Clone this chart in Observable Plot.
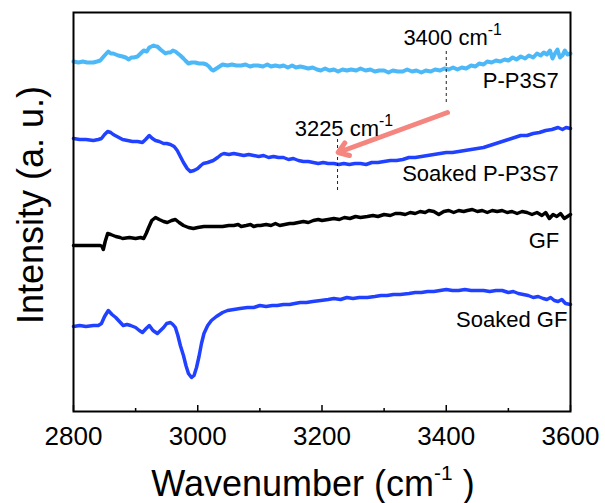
<!DOCTYPE html>
<html>
<head>
<meta charset="utf-8">
<script src="https://cdn.jsdelivr.net/npm/d3@7"></script>
<script src="https://cdn.jsdelivr.net/npm/@observablehq/plot@0.6"></script>
<style>
  html, body { margin: 0; padding: 0; background: #fff; }
  #chart svg { display: block; }
</style>
</head>
<body>
<div id="chart"></div>
<script>
// ---- data (wavenumber in cm^-1, intensity in arbitrary units, spectra offset vertically) ----
const ppWn  = [2800,2808,2815,2822,2832,2838,2843,2850,2856,2860,2864,2872,2879,2884,2889,2893,2897,2903,2908,2913,2918,2922,2929,2933,2935,2940,2944,2948,2952,2956,2960,2964,2968,2972,2977,2980,2985,2990,2996,3002,3009,3014,3018,3022,3025,3030,3035,3040,3048,3055,3062,3070,3077,3084,3090,3097,3105,3112,3118,3125,3132,3138,3145,3152,3158,3165,3172,3178,3185,3192,3198,3205,3212,3219,3226,3233,3240,3247,3255,3262,3270,3278,3285,3292,3300,3307,3314,3322,3330,3337,3345,3352,3360,3367,3375,3382,3390,3397,3404,3411,3418,3425,3432,3440,3447,3453,3460,3466,3473,3480,3487,3494,3500,3507,3513,3520,3527,3533,3540,3546,3552,3557,3562,3567,3571,3575,3579,3583,3587,3591,3595,3600];
const ppInt = [350,349,350,349,349,350,351,356,360,358,358,356,355,354,352,354,354,355,358,361,360,364,366,365,365,362,360,358,359,359,361,360,358,356,353,351,348,349,349,348,348,347,345,342,341,343,345,347,346,347,346,346,347,345,346,346,345,347,345,346,345,346,344,346,344,345,344,343,344,342,341,343,341,342,340,342,341,342,341,343,341,342,340,341,341,339,341,340,340,342,340,341,339,341,340,342,341,343,342,344,342,344,343,346,345,348,347,350,349,351,350,352,351,354,352,355,353,356,354,358,356,359,357,361,353,358,362,354,356,361,357,358];

const spWn  = [2800,2810,2820,2832,2840,2845,2850,2855,2860,2864,2870,2879,2887,2895,2903,2911,2916,2922,2927,2932,2938,2945,2950,2956,2962,2967,2972,2977,2983,2988,2994,3000,3005,3009,3016,3025,3032,3038,3042,3050,3058,3066,3074,3082,3090,3098,3106,3114,3122,3130,3138,3146,3154,3162,3170,3178,3186,3194,3202,3210,3219,3227,3235,3244,3253,3262,3271,3280,3290,3300,3310,3320,3330,3340,3350,3360,3370,3380,3390,3400,3410,3420,3430,3440,3450,3460,3470,3480,3490,3500,3510,3520,3530,3540,3550,3560,3570,3580,3587,3593,3600];
const spInt = [273,272,272,271,272,273,277,280,279,277,275,272,271,270,270,269,272,276,273,271,270,268,268,267,265,261,255,249,243,240,241,243,246,248,249,251,254,257,258,257,258,257,256,257,256,255,256,254,255,254,254,252,253,251,250,250,249,248,249,248,248,247,248,247,248,248,247,249,249,250,251,251,252,254,254,255,256,257,258,259,259,260,261,262,263,264,266,268,270,272,274,276,276,278,279,281,282,284,282,284,283];

const gfWn  = [2800,2820,2843,2846,2848,2851,2855,2860,2868,2875,2879,2890,2900,2908,2913,2917,2921,2926,2932,2938,2945,2951,2958,2964,2970,2977,2985,2993,3000,3010,3021,3030,3040,3050,3058,3065,3070,3078,3085,3090,3096,3101,3110,3118,3125,3132,3140,3148,3154,3162,3170,3178,3186,3194,3200,3210,3219,3228,3236,3245,3254,3262,3273,3282,3290,3300,3310,3318,3326,3334,3342,3350,3358,3366,3372,3380,3388,3396,3404,3412,3420,3428,3434,3442,3450,3458,3466,3474,3482,3490,3498,3506,3514,3522,3530,3538,3546,3554,3560,3566,3572,3578,3584,3590,3595,3600];
const gfInt = [166,166,166,165,162,170,178,177,175,174,173,174,173,174,173,178,184,191,194,192,190,189,191,192,189,186,184,183,184,185,185,185,185,186,186,187,185,186,187,185,186,186,187,186,188,186,187,188,188,189,190,189,191,192,191,192,193,192,194,193,195,194,195,196,195,197,196,198,198,197,199,198,200,199,201,200,197,200,201,199,201,200,201,202,200,201,199,201,200,201,199,200,198,200,199,197,199,196,199,193,197,195,198,193,195,197];

const sgWn  = [2800,2810,2820,2832,2840,2845,2850,2856,2862,2868,2874,2880,2886,2892,2900,2906,2911,2917,2922,2928,2935,2940,2945,2950,2956,2960,2964,2968,2972,2977,2981,2985,2990,2994,2998,3002,3006,3010,3016,3022,3030,3040,3048,3058,3068,3080,3090,3100,3110,3120,3128,3138,3148,3156,3165,3175,3185,3198,3210,3219,3230,3240,3250,3260,3273,3285,3295,3305,3315,3326,3340,3350,3360,3370,3380,3390,3400,3410,3420,3430,3440,3450,3460,3470,3480,3490,3500,3508,3516,3524,3532,3540,3548,3556,3562,3568,3574,3580,3586,3592,3600];
const sgInt = [85,86,85,86,86,88,95,101,97,94,90,86,87,86,84,81,79,83,86,81,78,81,84,88,89,87,84,76,66,56,46,38,34,36,44,55,68,78,86,91,95,99,101,102,103,104,104,106,105,106,106,107,107,108,109,109,110,111,112,113,112,114,113,114,114,115,116,116,117,117,118,119,119,120,120,121,122,121,121,122,121,121,121,120,121,121,119,120,118,117,116,114,115,113,112,114,111,110,112,108,107];

const seriesNames  = ["P-P3S7", "Soaked P-P3S7", "GF", "Soaked GF"];
const seriesColors = ["#4db8f8", "#2041ff", "#000000", "#2041ff"];
const labelWn      = [3581, 3581, 3582, 3595];
const labelInt     = [331, 238, 171, 92];

const majorTicks = [2800, 3000, 3200, 3400, 3600];
const minorTicks = [2900, 3100, 3300, 3500];

const peakWn      = [3225, 3400];
const peakLow     = [221, 309];
const peakHigh    = [273, 363];
const peakText    = ["3225 cm^-1", "3400 cm^-1"];
const peakTextWn  = [3156, 3331];
const peakTextInt = [283, 374];

const arrowFrom = {wn: 3402, int: 299};
const arrowTo   = {wn: 3226, int: 259};

// ---- build ----
const toRows = (wn, v) => wn.map((x, i) => ({x, y: v[i]}));
const series = [toRows(ppWn, ppInt), toRows(spWn, spInt), toRows(gfWn, gfInt), toRows(sgWn, sgInt)];
const labels = seriesNames.map((t, i) => ({t, x: labelWn[i], y: labelInt[i]}));
const peaks  = peakWn.map((x, i) => ({x, y1: peakLow[i], y2: peakHigh[i]}));
const peakLabels = peakText.map((t, i) => ({t, x: peakTextWn[i], y: peakTextInt[i]}));

const FONT = "Liberation Sans, Arial, Helvetica, sans-serif";

const chart = Plot.plot({
  width: 605,
  height: 503,
  marginLeft: 73,
  marginRight: 35,
  marginTop: 12,
  marginBottom: 92,
  style: {fontFamily: FONT, background: "#fff", color: "#000"},
  x: {domain: [2800, 3600]},
  y: {domain: [0, 399]},
  marks: [
    ...series.map((d, i) => Plot.line(d, {x: "x", y: "y", stroke: seriesColors[i], strokeWidth: i === 0 ? 4 : 3.5, strokeLinejoin: "round"})),
    Plot.ruleX(peaks, {x: "x", y1: "y1", y2: "y2", stroke: "#222", strokeWidth: 1, strokeDasharray: "3,3"}),
    Plot.arrow([0], {x1: () => arrowFrom.wn, y1: () => arrowFrom.int, x2: () => arrowTo.wn, y2: () => arrowTo.int, stroke: "#f4857f", strokeWidth: 5, headLength: 3.5, headAngle: 70}),
    Plot.text(labels, {x: "x", y: "y", text: "t", textAnchor: "end", lineAnchor: "middle", fontSize: 22, fill: "#000"}),
    Plot.text(peakLabels, {x: "x", y: "y", text: "t", textAnchor: "start", lineAnchor: "middle", fontSize: 22, fill: "#000"}),
    Plot.ruleX(majorTicks, {x: d => d, insetTop: 393, stroke: "#000", strokeWidth: 1.5}),
    Plot.ruleX(minorTicks, {x: d => d, insetTop: 396, stroke: "#000", strokeWidth: 1.5}),
    Plot.text(majorTicks, {x: d => d, text: d => String(d), frameAnchor: "bottom", lineAnchor: "middle", dy: 25, fontSize: 26, fill: "#000"}),
    Plot.text(["Wavenumber (cm^-1 )"], {frameAnchor: "bottom", textAnchor: "middle", lineAnchor: "middle", dx: -9, dy: 73, fontSize: 36, fill: "#000"}),
    Plot.text(["Intensity (a. u.)"], {frameAnchor: "left", textAnchor: "middle", lineAnchor: "middle", rotate: -90, dx: -42, dy: -7, fontSize: 36, fill: "#000"}),
    Plot.frame({stroke: "#000", strokeWidth: 2})
  ],
  axis: null
});

// superscript handling: "^-1" -> raised smaller "-1"
const NS = "http://www.w3.org/2000/svg";
chart.querySelectorAll("text").forEach(t => {
  const s = t.textContent;
  const m = s.match(/^(.*)\^(-1)(.*)$/);
  if (!m) return;
  let el = t, fs = NaN;
  while (el && el.getAttribute) {
    const v = el.getAttribute("font-size");
    if (v) { fs = parseFloat(v); break; }
    el = el.parentNode;
  }
  if (!isFinite(fs)) fs = 22;
  const ratio = fs > 30 ? 0.58 : 0.72;
  const rise = fs * 0.44;
  t.textContent = "";
  const a = document.createElementNS(NS, "tspan"); a.textContent = m[1]; t.appendChild(a);
  const b = document.createElementNS(NS, "tspan"); b.textContent = m[2];
  b.setAttribute("font-size", fs * ratio); b.setAttribute("dy", -rise); t.appendChild(b);
  if (m[3]) {
    const c = document.createElementNS(NS, "tspan"); c.textContent = m[3];
    c.setAttribute("dy", rise); t.appendChild(c);
  }
});

document.getElementById("chart").appendChild(chart);
</script>
</body>
</html>
